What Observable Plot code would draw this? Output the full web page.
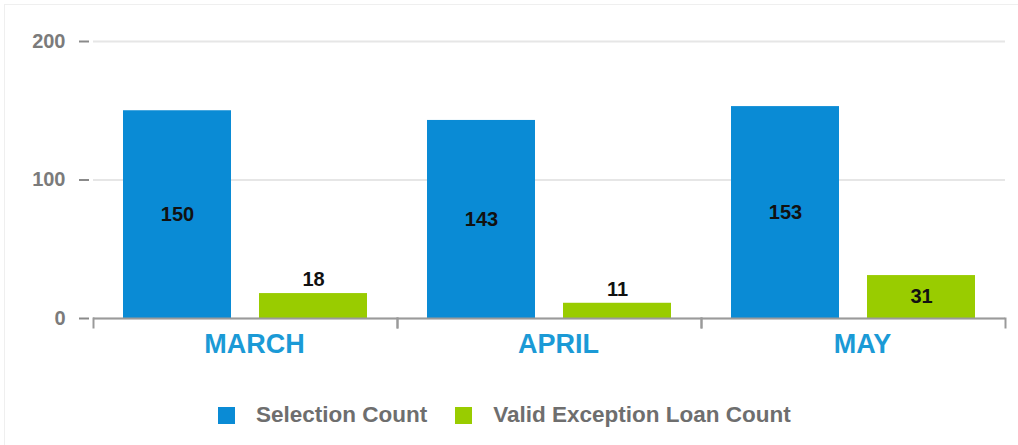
<!DOCTYPE html>
<html>
<head>
<meta charset="utf-8">
<script src="https://cdn.jsdelivr.net/npm/d3@7"></script>
<script src="https://cdn.jsdelivr.net/npm/@observablehq/plot@0.6"></script>
<style>
  html, body { margin: 0; padding: 0; background: #fff; }
  body { width: 1018px; height: 445px; position: relative; overflow: hidden; font-family: "Liberation Sans", Arial, sans-serif; }
  #border { position: absolute; left: 4px; top: 4px; right: -20px; bottom: -20px; border: 1px solid #efefef; pointer-events: none; }
  #legend { display: flex; align-items: center; height: 24px; margin-top: 23px; padding-left: 218px; font-size: 22.5px; font-weight: bold; color: #6e6e6e; }
  .sw { width: 17px; height: 17px; display: inline-block; margin-right: 21px; }
  .item { display: flex; align-items: center; margin-right: 28px; }
</style>
</head>
<body>
<div id="chart"></div>
<div id="legend"></div>
<div id="border"></div>
<script>
const months = ["MARCH", "APRIL", "MAY"];
const seriesNames = ["Selection Count", "Valid Exception Loan Count"];
const selectionCount = [150, 143, 153];
const validExceptionLoanCount = [18, 11, 31];
const seriesColors = ["#0a8bd5", "#99cc00"];
const yTicks = [0, 100, 200];

const data = months.flatMap((m, i) => [
  {month: m, series: seriesNames[0], value: selectionCount[i]},
  {month: m, series: seriesNames[1], value: validExceptionLoanCount[i]}
]);
const inside = data.filter(d => d.value >= 25);
const outside = data.filter(d => d.value < 25);

const H = 380, MT = 41, MB = 62;

const chart = Plot.plot({
  width: 1018,
  height: H,
  marginTop: MT,
  marginBottom: MB,
  marginLeft: 92,
  marginRight: 13,
  style: {fontFamily: "'Liberation Sans', Arial, sans-serif", background: "transparent"},
  fx: {domain: months, padding: 0, label: null},
  x: {domain: seriesNames, paddingInner: 0.206, paddingOuter: 0.22, axis: null},
  y: {domain: [0, 200]},
  color: {domain: seriesNames, range: seriesColors},
  marks: [
    Plot.gridY(yTicks, {stroke: "#e6e6e6", strokeOpacity: 1, strokeWidth: 2}),
    Plot.barY(data, {fx: "month", x: "series", y: "value", fill: "series"}),
    Plot.ruleY([0], {stroke: "#9a9a9a", strokeWidth: 2}),
    Plot.frame({anchor: "left", insetTop: H - MT - MB, insetBottom: -9, stroke: "#9a9a9a", strokeWidth: 2}),
    Plot.frame({anchor: "right", insetTop: H - MT - MB, insetBottom: -9, stroke: "#9a9a9a", strokeWidth: 2}),
    Plot.axisY(yTicks, {tickSize: 10, tickPadding: 14, dx: -4, stroke: "#8a8a8a", strokeWidth: 2, fill: "#7b7b7b", fontSize: 20, fontWeight: "bold", label: null}),
    Plot.axisFx({anchor: "bottom", tickSize: 0, tickPadding: 15, dx: 9, fontSize: 27, fontWeight: "bold", fill: "#1b9ad6", label: null}),
    Plot.text(inside, {fx: "month", x: "series", y: d => d.value / 2, text: d => String(d.value), fill: "#111", fontSize: 20, fontWeight: "bold"}),
    Plot.text(outside, {fx: "month", x: "series", y: "value", dy: -14, text: d => String(d.value), fill: "#111", fontSize: 20, fontWeight: "bold"})
  ]
});
document.getElementById("chart").appendChild(chart);

const legend = document.getElementById("legend");
seriesNames.forEach((name, i) => {
  const item = document.createElement("div");
  item.className = "item";
  const sw = document.createElement("span");
  sw.className = "sw";
  sw.style.background = seriesColors[i];
  const label = document.createElement("span");
  label.textContent = name;
  item.appendChild(sw);
  item.appendChild(label);
  legend.appendChild(item);
});
</script>
</body>
</html>
